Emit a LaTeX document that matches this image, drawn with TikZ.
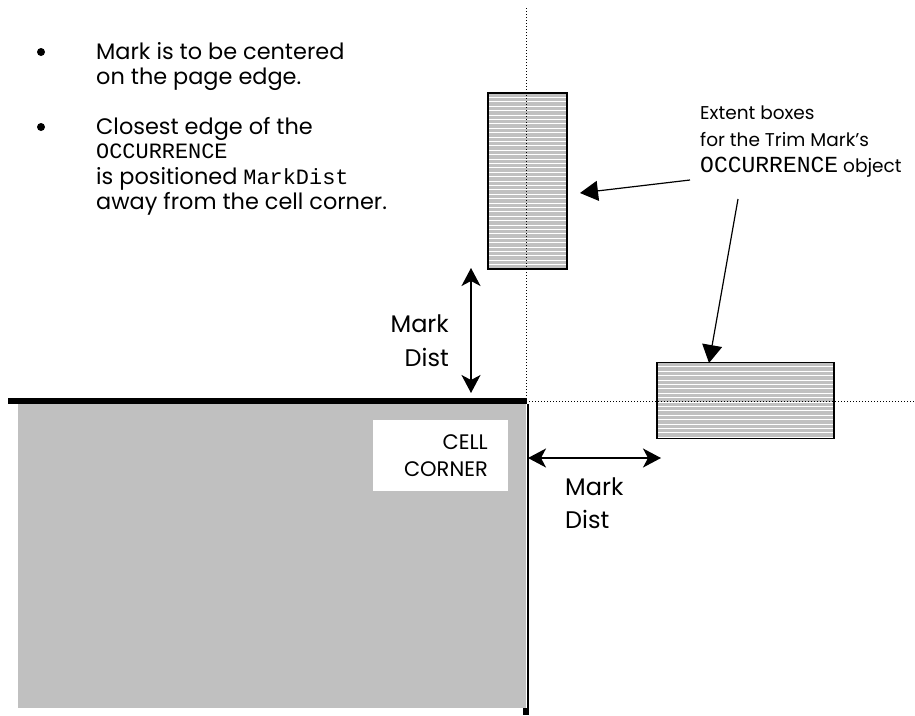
\documentclass[tikz,border=0pt]{standalone}
\usepackage{fontspec}
\setmainfont{Poppins}
\setmonofont{Liberation Mono}
\usetikzlibrary{arrows.meta}
\definecolor{cellgray}{RGB}{192,192,192}
\tikzset{
  hatchbox/.style={draw=black, line width=1.5pt, fill=cellgray, inner sep=0pt,
    path picture={\foreach \i in {1,...,60}{\draw[white, line width=1pt]
      ([yshift=-\i*4.4pt]path picture bounding box.north west) -- ++(300pt,0pt);}}},
  dimarrow/.style={line width=1.7pt, {Stealth[length=18pt,width=19pt,inset=5pt]}-{Stealth[length=18pt,width=19pt,inset=5pt]}},
  callout/.style={line width=1.2pt, -{Triangle[length=18pt,width=20pt]}},
  guide/.style={dotted, line width=1pt},
  bodytxt/.style={font=\fontsize{22.4}{25}\selectfont, anchor=base west, inner sep=0pt},
  monotxt/.style={font=\ttfamily\fontsize{21.9}{25}\selectfont},
  dimtxt/.style={font=\fontsize{24}{28}\selectfont, inner sep=0pt},
  celltxt/.style={font=\fontsize{21}{24}\selectfont, anchor=base east, inner sep=0pt},
  smalltxt/.style={font=\fontsize{18.5}{22}\selectfont, anchor=base west, inner sep=0pt},
}
\begin{document}
\begin{tikzpicture}[x=1pt,y=-1pt]
\useasboundingbox (0,0) rectangle (915,715);
\fill[white] (0,0) rectangle (915,715);

% cell
\fill[cellgray] (18,404) rectangle (526,708);
\node[fill=white, minimum width=135pt, minimum height=71pt, inner sep=0pt] (cc) at (440.5,455.5) {};
\node[celltxt] (cc1) at (488,449) {CELL};
\node[celltxt] (cc2) at (488,476) {CORNER};
\draw[line width=6pt] (8,401) -- (527,401);
\draw[line width=2pt] (527.5,404) -- (527.5,715);
\fill (523,708) rectangle (529,715);

% extent boxes
\node[hatchbox, minimum width=79pt, minimum height=176pt] (vbox) at (527.5,181) {};
\node[hatchbox, minimum width=177pt, minimum height=76pt] (hbox) at (745.5,400.5) {};

% guides
\coordinate (gtop) at (526,8);
\coordinate (gcorner) at (526,401);
\coordinate (gright) at (915,401);
\draw[guide] (gtop) -- (gcorner) -- (gright);

% dimension arrows
\coordinate (v1) at (471,268);
\coordinate (v2) at (471,393);
\draw[dimarrow] (v1) -- (v2);
\node[dimtxt, anchor=base east] (md1) at (449,332) {Mark};
\node[dimtxt, anchor=base east] (md2) at (449,366) {Dist};

\coordinate (h1) at (528,458);
\coordinate (h2) at (661,458);
\draw[dimarrow] (h1) -- (h2);
\node[dimtxt, anchor=base west] (md3) at (565,495) {Mark};
\node[dimtxt, anchor=base west] (md4) at (565,528) {Dist};

% bullets
\node[circle, fill, inner sep=0pt, minimum size=8pt] (b1) at (41,52) {};
\node[circle, fill, inner sep=0pt, minimum size=8pt] (b2) at (41,127) {};
\node[bodytxt] (l1) at (96,59) {Mark is to be centered};
\node[bodytxt] (l2) at (96,84) {on the page edge.};
\node[bodytxt] (l3) at (96,134) {Closest edge of the};
\node[bodytxt, monotxt] (l4) at (96,158) {OCCURRENCE};
\node[bodytxt] (l5) at (96,184) {is positioned \texttt{\fontsize{21.9}{25}\selectfont MarkDist}};
\node[bodytxt] (l6) at (96,209) {away from the cell corner.};

% callout
\node[smalltxt] (e1) at (700,119) {Extent boxes};
\node[smalltxt] (e2) at (700,146) {for the Trim Mark’s};
\node[smalltxt] (e3) at (700,172) {{\ttfamily\fontsize{23}{26}\selectfont OCCURRENCE} object};
\coordinate (c1) at (690,180);
\coordinate (c1t) at (580,193);
\draw[callout] (c1) -- (c1t);
\coordinate (c2) at (738,199);
\coordinate (c2t) at (709,363);
\draw[callout] (c2) -- (c2t);
\end{tikzpicture}
\end{document}
